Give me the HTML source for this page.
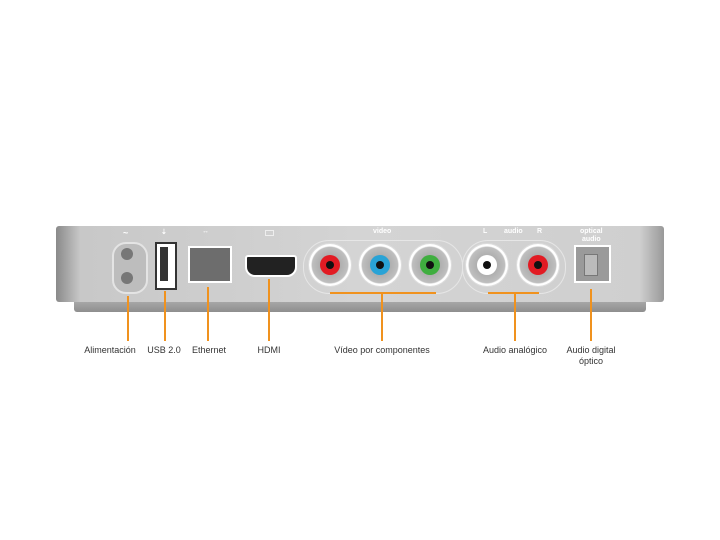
<!DOCTYPE html>
<html><head><style>
body{margin:0;width:720px;height:540px;background:#fff;position:relative;overflow:hidden;font-family:"Liberation Sans",sans-serif}
.a{position:absolute}
.lbl{position:absolute;font-size:9px;color:#333;top:345px;text-align:center;white-space:nowrap}
.ol{position:absolute;background:#f0921e}
.rca{position:absolute;width:42px;height:42px;border-radius:50%;background:radial-gradient(circle,#9a9a9a 0,#bfbfbf 60%,#fff 64%,#fff 72%,#b8b8b8 76%);box-shadow:0 0 0 1px #ddd}
.rca i{position:absolute;left:11px;top:11px;width:20px;height:20px;border-radius:50%}
.rca i:after{content:"";position:absolute;left:6px;top:6px;width:8px;height:8px;border-radius:50%;background:#111}
.tl{position:absolute;font-size:7px;color:#fff;font-weight:bold}
</style></head><body>
<div class="a" style="left:74px;top:296px;width:572px;height:16px;background:linear-gradient(#b5b5b5,#8e8e8e);border-radius:0 0 3px 3px"></div>
<div class="a" style="left:56px;top:226px;width:608px;height:76px;background:linear-gradient(90deg,#8a8a8a 0,#c8c8c8 4%,#d4d4d4 50%,#cfcfcf 96%,#999 100%);border-radius:3px"></div>
<div class="a" style="left:112px;top:242px;width:32px;height:48px;border-radius:14px;background:#bdbdbd;border:2px solid #e4e4e4"></div>
<div class="a" style="left:121px;top:248px;width:12px;height:12px;border-radius:50%;background:#777"></div>
<div class="a" style="left:121px;top:272px;width:12px;height:12px;border-radius:50%;background:#777"></div>
<div class="tl" style="left:123px;top:228px;font-size:9px">~</div>
<div class="tl" style="left:161px;top:228px">⇣</div>
<div class="tl" style="left:202px;top:228px">↔</div>
<div class="a" style="left:265px;top:230px;width:7px;height:4px;border:1px solid #eee"></div>
<div class="a" style="left:155px;top:242px;width:18px;height:44px;background:#fff;border:2px solid #333"></div>
<div class="a" style="left:160px;top:247px;width:8px;height:34px;background:#333"></div>
<div class="a" style="left:188px;top:246px;width:40px;height:33px;background:#6d6d6d;border:2px solid #fff"></div>
<div class="a" style="left:245px;top:255px;width:48px;height:18px;background:#222;border:2px solid #fff;border-radius:3px 3px 10px 10px"></div>
<div class="tl" style="left:373px;top:228px">video</div>
<div class="tl" style="left:504px;top:228px">audio</div>
<div class="tl" style="left:483px;top:228px">L</div><div class="tl" style="left:537px;top:228px">R</div>
<div class="tl" style="left:580px;top:228px;text-align:center;line-height:8px">optical<br>audio</div>
<div class="a" style="left:303px;top:240px;width:158px;height:52px;border:1px solid #e6e6e6;border-radius:26px"></div>
<div class="a" style="left:462px;top:240px;width:102px;height:52px;border:1px solid #e6e6e6;border-radius:26px"></div>
<div class="rca" style="left:309px;top:244px"><i style="background:#e21b23"></i></div>
<div class="rca" style="left:359px;top:244px"><i style="background:#29a3d6"></i></div>
<div class="rca" style="left:409px;top:244px"><i style="background:#3fae3f"></i></div>
<div class="rca" style="left:466px;top:244px"><i style="background:#fff"></i></div>
<div class="rca" style="left:517px;top:244px"><i style="background:#e21b23"></i></div>
<div class="a" style="left:574px;top:245px;width:33px;height:34px;background:#9a9a9a;border:2px solid #fff"></div>
<div class="a" style="left:584px;top:254px;width:12px;height:20px;background:#bbb;border:1px solid #777"></div>
<div class="ol" style="left:127px;top:296px;width:2px;height:45px"></div>
<div class="ol" style="left:164px;top:291px;width:2px;height:50px"></div>
<div class="ol" style="left:207px;top:287px;width:2px;height:54px"></div>
<div class="ol" style="left:268px;top:279px;width:2px;height:62px"></div>
<div class="ol" style="left:330px;top:292px;width:106px;height:2px"></div>
<div class="ol" style="left:381px;top:292px;width:2px;height:49px"></div>
<div class="ol" style="left:488px;top:292px;width:51px;height:2px"></div>
<div class="ol" style="left:514px;top:292px;width:2px;height:49px"></div>
<div class="ol" style="left:590px;top:289px;width:2px;height:52px"></div>
<div class="lbl" style="left:70px;width:80px">Alimentación</div>
<div class="lbl" style="left:144px;width:40px">USB 2.0</div>
<div class="lbl" style="left:184px;width:50px">Ethernet</div>
<div class="lbl" style="left:244px;width:50px">HDMI</div>
<div class="lbl" style="left:322px;width:120px">Vídeo por componentes</div>
<div class="lbl" style="left:470px;width:90px">Audio analógico</div>
<div class="lbl" style="left:556px;width:70px;line-height:11px">Audio digital<br>óptico</div>
</body></html>
